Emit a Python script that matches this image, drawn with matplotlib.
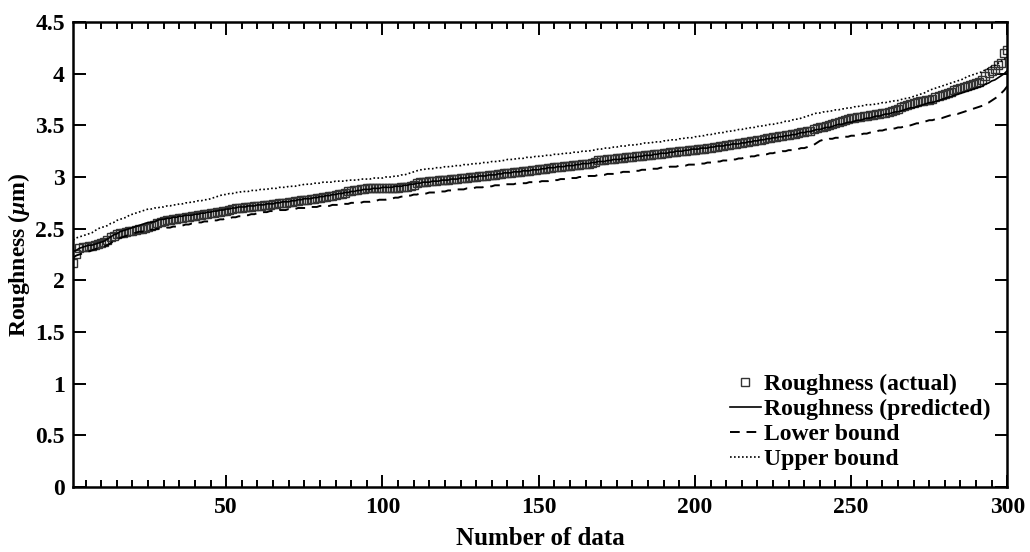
import matplotlib
matplotlib.use("Agg")
import matplotlib.pyplot as plt
from matplotlib.ticker import MultipleLocator, FormatStrFormatter
import numpy as np

plt.rcParams['font.family'] = ['Liberation Serif', 'DejaVu Serif']
plt.rcParams['font.weight'] = 'bold'
plt.rcParams['mathtext.fontset'] = 'custom'
plt.rcParams['mathtext.it'] = 'Liberation Serif:italic:bold'
plt.rcParams['mathtext.rm'] = 'Liberation Serif:bold'

# Measured roughness, sorted ascending (um)
actual = [
    2.17, 2.25, 2.31, 2.32, 2.32, 2.33, 2.33, 2.34, 2.35, 2.36, 2.37, 2.39, 2.42, 2.43, 2.45, 2.46, 2.46, 2.47, 2.48, 2.48,
    2.49, 2.50, 2.50, 2.51, 2.52, 2.53, 2.54, 2.55, 2.56, 2.57, 2.58, 2.58, 2.59, 2.59, 2.60, 2.60, 2.61, 2.61, 2.62, 2.62,
    2.63, 2.63, 2.64, 2.64, 2.65, 2.65, 2.66, 2.66, 2.67, 2.67, 2.68, 2.69, 2.70, 2.70, 2.70, 2.71, 2.71, 2.71, 2.72, 2.72,
    2.72, 2.73, 2.73, 2.73, 2.74, 2.74, 2.75, 2.75, 2.75, 2.76, 2.76, 2.77, 2.77, 2.78, 2.78, 2.78, 2.79, 2.79, 2.80, 2.80,
    2.81, 2.81, 2.82, 2.82, 2.83, 2.84, 2.84, 2.85, 2.86, 2.86, 2.87, 2.87, 2.88, 2.88, 2.89, 2.89, 2.89, 2.89, 2.89, 2.89,
    2.89, 2.89, 2.89, 2.89, 2.89, 2.90, 2.90, 2.90, 2.91, 2.92, 2.94, 2.95, 2.95, 2.95, 2.96, 2.96, 2.96, 2.97, 2.97, 2.97,
    2.97, 2.98, 2.98, 2.98, 2.99, 2.99, 2.99, 3.00, 3.00, 3.00, 3.01, 3.01, 3.01, 3.02, 3.02, 3.02, 3.03, 3.03, 3.04, 3.04,
    3.04, 3.05, 3.05, 3.05, 3.06, 3.06, 3.06, 3.07, 3.07, 3.08, 3.08, 3.08, 3.09, 3.09, 3.10, 3.10, 3.10, 3.11, 3.11, 3.11,
    3.12, 3.12, 3.12, 3.13, 3.13, 3.13, 3.14, 3.15, 3.16, 3.16, 3.16, 3.17, 3.17, 3.17, 3.18, 3.18, 3.18, 3.19, 3.19, 3.19,
    3.20, 3.20, 3.20, 3.21, 3.21, 3.21, 3.22, 3.22, 3.22, 3.23, 3.23, 3.24, 3.24, 3.24, 3.25, 3.25, 3.25, 3.26, 3.26, 3.26,
    3.27, 3.27, 3.27, 3.28, 3.28, 3.29, 3.29, 3.30, 3.30, 3.31, 3.31, 3.32, 3.32, 3.33, 3.33, 3.34, 3.34, 3.35, 3.35, 3.36,
    3.36, 3.37, 3.38, 3.38, 3.39, 3.39, 3.40, 3.40, 3.41, 3.41, 3.42, 3.42, 3.43, 3.44, 3.44, 3.45, 3.45, 3.46, 3.47, 3.48,
    3.48, 3.49, 3.50, 3.51, 3.52, 3.53, 3.54, 3.55, 3.56, 3.57, 3.57, 3.58, 3.58, 3.59, 3.59, 3.60, 3.60, 3.61, 3.61, 3.62,
    3.62, 3.63, 3.64, 3.65, 3.66, 3.68, 3.69, 3.70, 3.71, 3.72, 3.73, 3.74, 3.74, 3.75, 3.75, 3.76, 3.77, 3.78, 3.79, 3.80,
    3.81, 3.82, 3.84, 3.85, 3.86, 3.87, 3.88, 3.89, 3.90, 3.91, 3.92, 3.94, 3.98, 4.01, 4.03, 4.05, 4.08, 4.10, 4.20, 4.23,
]

# Model prediction for each sample
predicted = [
    2.28, 2.29, 2.31, 2.32, 2.33, 2.34, 2.34, 2.35, 2.36, 2.37, 2.38, 2.40, 2.42, 2.44, 2.45, 2.47, 2.48, 2.49, 2.50, 2.51,
    2.52, 2.53, 2.54, 2.55, 2.56, 2.56, 2.57, 2.58, 2.59, 2.59, 2.60, 2.60, 2.61, 2.61, 2.62, 2.62, 2.63, 2.63, 2.63, 2.64,
    2.64, 2.65, 2.65, 2.66, 2.66, 2.67, 2.67, 2.68, 2.68, 2.69, 2.69, 2.70, 2.70, 2.71, 2.71, 2.71, 2.72, 2.72, 2.72, 2.73,
    2.73, 2.73, 2.74, 2.74, 2.74, 2.75, 2.75, 2.76, 2.76, 2.76, 2.77, 2.77, 2.78, 2.78, 2.79, 2.79, 2.79, 2.80, 2.80, 2.81,
    2.81, 2.82, 2.82, 2.83, 2.83, 2.84, 2.84, 2.85, 2.85, 2.86, 2.86, 2.87, 2.87, 2.88, 2.88, 2.88, 2.89, 2.89, 2.89, 2.90,
    2.90, 2.90, 2.90, 2.91, 2.91, 2.91, 2.92, 2.92, 2.93, 2.93, 2.94, 2.94, 2.95, 2.95, 2.95, 2.96, 2.96, 2.96, 2.97, 2.97,
    2.97, 2.98, 2.98, 2.98, 2.99, 2.99, 2.99, 3.00, 3.00, 3.00, 3.01, 3.01, 3.01, 3.02, 3.02, 3.02, 3.03, 3.03, 3.04, 3.04,
    3.04, 3.05, 3.05, 3.05, 3.06, 3.06, 3.06, 3.07, 3.07, 3.07, 3.08, 3.08, 3.09, 3.09, 3.09, 3.10, 3.10, 3.10, 3.11, 3.11,
    3.11, 3.12, 3.12, 3.13, 3.13, 3.13, 3.14, 3.14, 3.15, 3.15, 3.15, 3.16, 3.16, 3.17, 3.17, 3.17, 3.18, 3.18, 3.19, 3.19,
    3.19, 3.20, 3.20, 3.21, 3.21, 3.21, 3.22, 3.22, 3.23, 3.23, 3.23, 3.24, 3.24, 3.25, 3.25, 3.25, 3.26, 3.26, 3.27, 3.27,
    3.27, 3.28, 3.28, 3.28, 3.29, 3.29, 3.30, 3.30, 3.30, 3.31, 3.31, 3.32, 3.32, 3.32, 3.33, 3.33, 3.34, 3.34, 3.35, 3.35,
    3.36, 3.36, 3.37, 3.37, 3.38, 3.38, 3.39, 3.39, 3.40, 3.40, 3.41, 3.41, 3.42, 3.43, 3.43, 3.44, 3.44, 3.45, 3.46, 3.46,
    3.47, 3.48, 3.48, 3.49, 3.50, 3.51, 3.51, 3.52, 3.53, 3.53, 3.54, 3.55, 3.55, 3.56, 3.57, 3.57, 3.58, 3.59, 3.59, 3.60,
    3.61, 3.61, 3.62, 3.63, 3.63, 3.64, 3.65, 3.66, 3.67, 3.67, 3.68, 3.69, 3.70, 3.71, 3.72, 3.72, 3.73, 3.74, 3.75, 3.76,
    3.77, 3.78, 3.79, 3.80, 3.81, 3.82, 3.83, 3.84, 3.85, 3.86, 3.87, 3.88, 3.90, 3.91, 3.93, 3.94, 3.96, 3.98, 4.00, 4.03,
]

# Lower limit of the prediction interval
lower = [
    2.22, 2.24, 2.25, 2.26, 2.27, 2.28, 2.29, 2.30, 2.31, 2.32, 2.33, 2.34, 2.36, 2.38, 2.39, 2.41, 2.42, 2.43, 2.44, 2.45,
    2.46, 2.47, 2.47, 2.48, 2.48, 2.49, 2.49, 2.50, 2.50, 2.50, 2.51, 2.51, 2.52, 2.52, 2.53, 2.53, 2.54, 2.54, 2.55, 2.55,
    2.56, 2.56, 2.57, 2.57, 2.57, 2.58, 2.58, 2.59, 2.59, 2.60, 2.60, 2.61, 2.61, 2.62, 2.62, 2.63, 2.63, 2.64, 2.64, 2.65,
    2.65, 2.66, 2.66, 2.67, 2.67, 2.67, 2.68, 2.68, 2.68, 2.69, 2.69, 2.69, 2.70, 2.70, 2.70, 2.70, 2.71, 2.71, 2.71, 2.72,
    2.72, 2.72, 2.72, 2.73, 2.73, 2.73, 2.74, 2.74, 2.74, 2.75, 2.75, 2.75, 2.75, 2.76, 2.76, 2.76, 2.77, 2.77, 2.78, 2.78,
    2.78, 2.79, 2.79, 2.80, 2.80, 2.81, 2.81, 2.82, 2.82, 2.83, 2.83, 2.84, 2.84, 2.84, 2.85, 2.85, 2.85, 2.86, 2.86, 2.86,
    2.87, 2.87, 2.87, 2.88, 2.88, 2.88, 2.89, 2.89, 2.89, 2.90, 2.90, 2.90, 2.91, 2.91, 2.91, 2.92, 2.92, 2.92, 2.93, 2.93,
    2.93, 2.93, 2.94, 2.94, 2.94, 2.94, 2.95, 2.95, 2.95, 2.95, 2.96, 2.96, 2.96, 2.97, 2.97, 2.97, 2.98, 2.98, 2.98, 2.99,
    2.99, 2.99, 3.00, 3.00, 3.00, 3.01, 3.01, 3.01, 3.02, 3.02, 3.02, 3.03, 3.03, 3.03, 3.04, 3.04, 3.05, 3.05, 3.05, 3.06,
    3.06, 3.06, 3.07, 3.07, 3.07, 3.08, 3.08, 3.08, 3.09, 3.09, 3.09, 3.10, 3.10, 3.10, 3.11, 3.11, 3.11, 3.12, 3.12, 3.12,
    3.13, 3.13, 3.13, 3.14, 3.14, 3.14, 3.15, 3.15, 3.16, 3.16, 3.16, 3.17, 3.17, 3.18, 3.18, 3.19, 3.19, 3.20, 3.20, 3.21,
    3.21, 3.22, 3.22, 3.23, 3.23, 3.24, 3.24, 3.25, 3.25, 3.26, 3.26, 3.27, 3.27, 3.28, 3.28, 3.29, 3.30, 3.31, 3.33, 3.35,
    3.36, 3.36, 3.37, 3.37, 3.38, 3.38, 3.38, 3.39, 3.39, 3.40, 3.40, 3.41, 3.41, 3.42, 3.42, 3.43, 3.43, 3.44, 3.45, 3.45,
    3.46, 3.46, 3.47, 3.47, 3.48, 3.48, 3.49, 3.50, 3.50, 3.51, 3.52, 3.52, 3.53, 3.54, 3.55, 3.55, 3.56, 3.57, 3.57, 3.58,
    3.59, 3.60, 3.61, 3.61, 3.62, 3.63, 3.64, 3.65, 3.66, 3.67, 3.68, 3.69, 3.71, 3.72, 3.74, 3.76, 3.78, 3.81, 3.84, 3.88,
]

# Upper limit of the prediction interval
upper = [
    2.39, 2.41, 2.42, 2.43, 2.44, 2.45, 2.46, 2.48, 2.50, 2.51, 2.52, 2.53, 2.55, 2.56, 2.58, 2.59, 2.60, 2.61, 2.63, 2.64,
    2.65, 2.66, 2.67, 2.68, 2.69, 2.69, 2.70, 2.70, 2.71, 2.71, 2.72, 2.72, 2.73, 2.73, 2.74, 2.74, 2.75, 2.75, 2.76, 2.76,
    2.77, 2.77, 2.78, 2.78, 2.79, 2.80, 2.81, 2.82, 2.83, 2.83, 2.84, 2.84, 2.85, 2.85, 2.86, 2.86, 2.86, 2.87, 2.87, 2.87,
    2.88, 2.88, 2.88, 2.89, 2.89, 2.89, 2.90, 2.90, 2.90, 2.91, 2.91, 2.91, 2.92, 2.92, 2.93, 2.93, 2.93, 2.94, 2.94, 2.94,
    2.95, 2.95, 2.95, 2.95, 2.96, 2.96, 2.96, 2.96, 2.97, 2.97, 2.97, 2.97, 2.98, 2.98, 2.98, 2.98, 2.99, 2.99, 2.99, 2.99,
    3.00, 3.00, 3.00, 3.01, 3.01, 3.02, 3.02, 3.03, 3.04, 3.05, 3.06, 3.07, 3.07, 3.08, 3.08, 3.08, 3.09, 3.09, 3.09, 3.10,
    3.10, 3.10, 3.11, 3.11, 3.11, 3.12, 3.12, 3.12, 3.13, 3.13, 3.13, 3.14, 3.14, 3.14, 3.15, 3.15, 3.15, 3.16, 3.16, 3.17,
    3.17, 3.17, 3.18, 3.18, 3.18, 3.19, 3.19, 3.19, 3.20, 3.20, 3.20, 3.21, 3.21, 3.21, 3.22, 3.22, 3.22, 3.23, 3.23, 3.23,
    3.24, 3.24, 3.24, 3.25, 3.25, 3.25, 3.26, 3.26, 3.27, 3.27, 3.28, 3.28, 3.28, 3.29, 3.29, 3.30, 3.30, 3.30, 3.31, 3.31,
    3.31, 3.32, 3.32, 3.33, 3.33, 3.33, 3.34, 3.34, 3.34, 3.35, 3.35, 3.36, 3.36, 3.36, 3.37, 3.37, 3.38, 3.38, 3.38, 3.39,
    3.39, 3.40, 3.40, 3.41, 3.41, 3.42, 3.42, 3.43, 3.43, 3.44, 3.44, 3.45, 3.45, 3.46, 3.46, 3.47, 3.47, 3.48, 3.48, 3.49,
    3.49, 3.50, 3.50, 3.51, 3.51, 3.52, 3.52, 3.53, 3.54, 3.54, 3.55, 3.56, 3.56, 3.57, 3.58, 3.59, 3.60, 3.61, 3.62, 3.62,
    3.63, 3.63, 3.64, 3.64, 3.65, 3.65, 3.66, 3.66, 3.67, 3.67, 3.68, 3.68, 3.69, 3.69, 3.70, 3.70, 3.70, 3.71, 3.71, 3.72,
    3.72, 3.73, 3.73, 3.74, 3.74, 3.75, 3.76, 3.76, 3.77, 3.78, 3.79, 3.80, 3.81, 3.82, 3.84, 3.85, 3.86, 3.87, 3.88, 3.89,
    3.90, 3.91, 3.92, 3.93, 3.94, 3.95, 3.97, 3.98, 3.99, 4.00, 4.01, 4.02, 4.04, 4.05, 4.07, 4.08, 4.10, 4.12, 4.14, 4.16,
]

sample_no = np.arange(1, len(actual) + 1)

x_ticks = [50, 100, 150, 200, 250, 300]
y_ticks = [0, 0.5, 1, 1.5, 2, 2.5, 3, 3.5, 4, 4.5]

fig = plt.figure(figsize=(10.30, 5.52), dpi=100)
ax = fig.add_axes([0.071, 0.118, 0.907, 0.842])

ax.plot(sample_no, actual, linestyle='none', marker='s', markersize=5.5,
        markerfacecolor='none', markeredgecolor='#333333', markeredgewidth=1.0,
        label='Roughness (actual)')
ax.plot(sample_no, predicted, color='black', linewidth=1.2,
        label='Roughness (predicted)')
ax.plot(sample_no, lower, color='black', linewidth=1.4, dashes=(5, 3.5),
        label='Lower bound')
ax.plot(sample_no, upper, color='black', linewidth=1.2, linestyle=(0, (1, 1.4)),
        label='Upper bound')

ax.set_xlim(1, 300)
ax.set_ylim(0, 4.5)
ax.set_xticks(x_ticks)
ax.set_yticks(y_ticks)
ax.xaxis.set_minor_locator(MultipleLocator(5))
ax.yaxis.set_major_formatter(FormatStrFormatter('%g'))

ax.tick_params(which='both', direction='in', top=True, right=True,
               labelsize=17, width=1.4)
ax.tick_params(axis='y', pad=6)
ax.tick_params(axis='x', pad=7)
ax.tick_params(which='major', length=9)
ax.tick_params(which='minor', length=5)
for lab in ax.get_xticklabels() + ax.get_yticklabels():
    lab.set_fontweight('bold')
for sp in ax.spines.values():
    sp.set_linewidth(1.8)

ax.set_xlabel('Number of data', fontsize=18, fontweight='bold', labelpad=7)
ax.set_ylabel(r'Roughness ($\mu$m)', fontsize=17, fontweight='bold', labelpad=2)

ax.legend(loc='lower right', frameon=False,
          handlelength=1.3, handletextpad=0.15, labelspacing=0.15,
          borderaxespad=0.3, prop={'weight': 'bold', 'size': 17})

fig.savefig('out.png', dpi=100)
